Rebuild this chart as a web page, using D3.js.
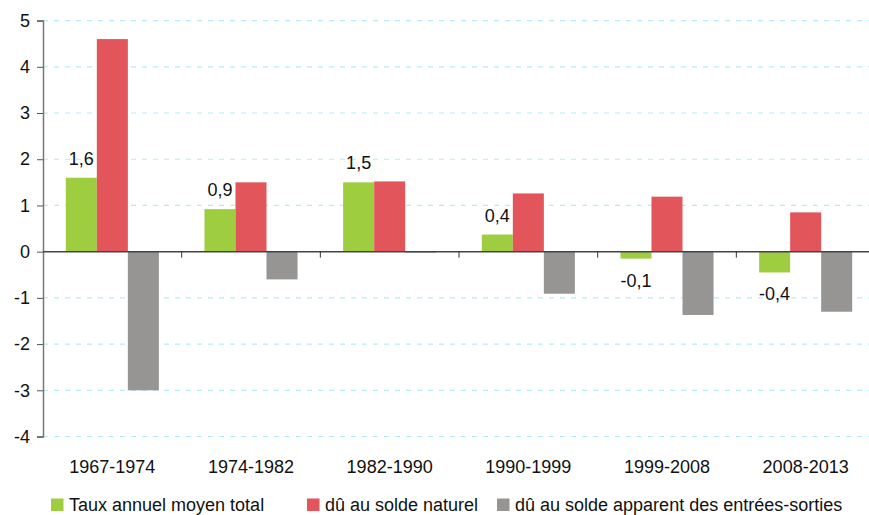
<!DOCTYPE html>
<html>
<head>
<meta charset="utf-8">
<script src="https://d3js.org/d3.v7.min.js"></script>
<style>
  body { margin: 0; background: #fff; }
  svg { display: block; font-family: "Liberation Sans", Arial, sans-serif; }
</style>
</head>
<body>
<script>
const width = 869, height = 515;
const margin = {left: 43, right: -6, top: 20.6, bottom: 78.5};

// Taux de variation annuel moyen de la population (%)
const periods = ["1967-1974", "1974-1982", "1982-1990", "1990-1999", "1999-2008", "2008-2013"];
const total   = [1.6, 0.92, 1.5, 0.37, -0.15, -0.45];
const naturel = [4.6, 1.5, 1.52, 1.26, 1.19, 0.85];
const migrat  = [-3.0, -0.6, -0.02, -0.91, -1.37, -1.3];
const totalLabels = ["1,6", "0,9", "1,5", "0,4", "-0,1", "-0,4"];
const seriesNames = ["Taux annuel moyen total", "dû au solde naturel", "dû au solde apparent des entrées-sorties"];
const yTicks = [-4, -3, -2, -1, 0, 1, 2, 3, 4, 5];

const keys = ["total", "naturel", "migrat"];
const colors = {total: "#9ecd40", naturel: "#e2555b", migrat: "#969594"};

const data = periods.map((p, i) => ({period: p, total: total[i], naturel: naturel[i], migrat: migrat[i]}));

const svg = d3.select("body").append("svg")
  .attr("width", width)
  .attr("height", height);

const x0 = d3.scaleBand()
  .domain(periods)
  .range([margin.left, width - margin.right])
  .padding(0);

const x1 = d3.scaleBand()
  .domain(keys)
  .range([0, x0.bandwidth()])
  .paddingInner(0)
  .paddingOuter(0.735);

const y = d3.scaleLinear()
  .domain([-4, 5])
  .range([height - margin.bottom, margin.top]);

// gridlines
svg.append("g")
  .selectAll("line")
  .data(yTicks.filter(d => d !== 0))
  .join("line")
    .attr("x1", margin.left)
    .attr("x2", width)
    .attr("y1", d => y(d))
    .attr("y2", d => y(d))
    .attr("stroke", "#b5ecf8")
    .attr("stroke-width", 1.2)
    .attr("stroke-dasharray", "5,6");

// bars
const groups = svg.append("g")
  .selectAll("g")
  .data(data)
  .join("g")
    .attr("transform", d => `translate(${x0(d.period)},0)`);

groups.selectAll("rect")
  .data(d => keys.map(k => ({key: k, value: d[k]})))
  .join("rect")
    .attr("x", d => x1(d.key))
    .attr("width", x1.bandwidth())
    .attr("y", d => y(Math.max(0, d.value)))
    .attr("height", d => Math.abs(y(d.value) - y(0)))
    .attr("fill", d => colors[d.key]);

// value labels on the total bars
groups.append("text")
  .attr("x", x1("total") + x1.bandwidth() / 2)
  .attr("y", d => d.total >= 0 ? y(d.total) - 13 : y(d.total) + 28)
  .attr("text-anchor", "middle")
  .attr("font-size", 18)
  .attr("fill", "#111")
  .text((d, i) => totalLabels[i]);

// y axis
const yAxis = svg.append("g")
  .attr("transform", `translate(${margin.left},0)`)
  .call(d3.axisLeft(y).tickValues(yTicks).tickSize(6).tickPadding(7).tickFormat(d => String(d)));
yAxis.select(".domain").attr("stroke", "#777").attr("stroke-width", 1.5);
yAxis.selectAll(".tick line").attr("stroke", "#555");
yAxis.selectAll(".tick text")
  .attr("font-size", 18)
  .attr("font-family", "Liberation Sans, Arial, sans-serif")
  .attr("fill", "#111");

// zero line with category separators
const xAxis = svg.append("g")
  .attr("transform", `translate(0,${y(0)})`);
xAxis.append("line")
  .attr("x1", margin.left)
  .attr("x2", width)
  .attr("stroke", "#444")
  .attr("stroke-width", 1.5);
xAxis.selectAll(".sep")
  .data(periods.slice(1))
  .join("line")
    .attr("class", "sep")
    .attr("x1", d => x0(d))
    .attr("x2", d => x0(d))
    .attr("y1", 0)
    .attr("y2", 6)
    .attr("stroke", "#333");

// category labels
svg.append("g")
  .selectAll("text")
  .data(periods)
  .join("text")
    .attr("x", d => x0(d) + x0.bandwidth() / 2)
    .attr("y", 473)
    .attr("text-anchor", "middle")
    .attr("font-size", 18)
    .attr("fill", "#111")
    .text(d => d);

// legend
const legendX = [51, 307, 497];
const legend = svg.append("g")
  .selectAll("g")
  .data(keys)
  .join("g")
    .attr("transform", (d, i) => `translate(${legendX[i]},498.5)`);
legend.append("rect")
  .attr("width", 12.5)
  .attr("height", 12.5)
  .attr("fill", d => colors[d]);
legend.append("text")
  .attr("x", 18)
  .attr("y", 12)
  .attr("font-size", 18)
  .attr("fill", "#111")
  .text((d, i) => seriesNames[i]);
</script>
</body>
</html>
